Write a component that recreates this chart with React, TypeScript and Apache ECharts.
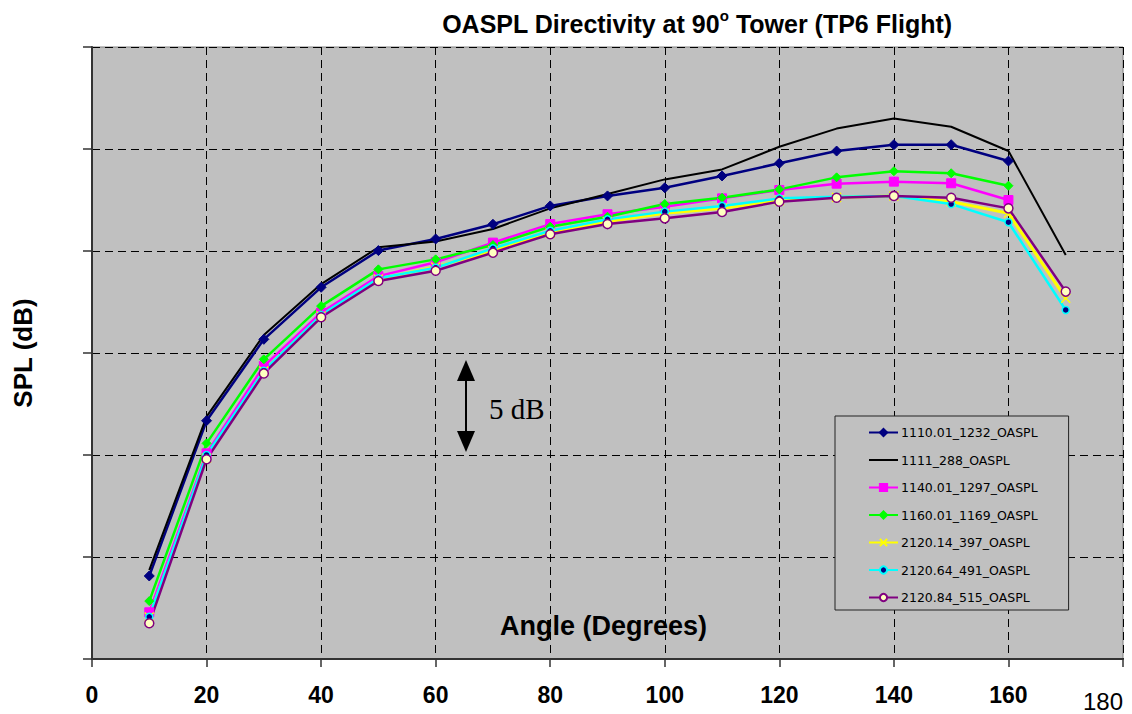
import React, { useEffect, useRef } from "react";
import * as echarts from "echarts";

const angles = [10, 20, 30, 40, 50, 60, 70, 80, 90, 100, 110, 120, 130, 140, 150, 160, 170];
const xTicks = [0, 20, 40, 60, 80, 100, 120, 140, 160, 180];

const s1110 = [4.07, 11.68, 15.67, 18.22, 20.02, 20.59, 21.31, 22.21, 22.7, 23.1, 23.68, 24.3, 24.9, 25.21, 25.21, 24.41, null];
const s1111 = [4.36, 11.88, 15.88, 18.38, 20.18, 20.47, 21.08, 22.09, 22.79, 23.51, 24.0, 25.11, 26.0, 26.5, 26.09, 24.9, 19.8];
const s1140 = [2.29, 10.08, 14.36, 16.98, 18.77, 19.45, 20.41, 21.32, 21.8, 22.17, 22.58, 22.99, 23.3, 23.4, 23.32, 22.5, null];
const s1160 = [2.84, 10.57, 14.69, 17.3, 19.1, 19.59, 20.29, 21.19, 21.68, 22.3, 22.61, 23.02, 23.61, 23.91, 23.81, 23.2, null];
const s2120_14 = [2.06, 9.85, 14.12, 16.81, 18.63, 19.22, 20.01, 20.87, 21.44, 21.85, 22.09, 22.47, 22.63, 22.7, 22.42, 21.85, 17.68];
const s2120_64 = [2.07, 10.0, 14.13, 16.86, 18.66, 19.18, 20.13, 20.99, 21.55, 21.93, 22.21, 22.58, 22.66, 22.7, 22.3, 21.41, 17.11];
const s2120_84 = [1.75, 9.79, 14.0, 16.75, 18.53, 19.03, 19.92, 20.82, 21.32, 21.6, 21.91, 22.42, 22.61, 22.7, 22.61, 22.09, 18.01];

const seriesNames = [
  "1110.01_1232_OASPL",
  "1111_288_OASPL",
  "1140.01_1297_OASPL",
  "1160.01_1169_OASPL",
  "2120.14_397_OASPL",
  "2120.64_491_OASPL",
  "2120.84_515_OASPL",
];

const pairs = (vals: (number | null)[]) =>
  angles.map((a, i) => [a, vals[i]]).filter((p) => p[1] !== null);

export default function App() {
  const ref = useRef<HTMLDivElement>(null);
  useEffect(() => {
    document.body.style.margin = "0";
    const chart = echarts.init(ref.current!, null, { renderer: "svg" });
    const mk = (
      name: string,
      vals: (number | null)[],
      color: string,
      width: number,
      symbol: string,
      size: number,
      fill: string,
      border: string,
      bw: number
    ) => ({
      name,
      type: "line",
      data: pairs(vals),
      showSymbol: symbol !== "none",
      symbol,
      symbolSize: size,
      lineStyle: { color, width },
      itemStyle: { color: fill, borderColor: border, borderWidth: bw },
      color,
      emphasis: { disabled: true },
    });
    chart.setOption({
      animation: false,
      backgroundColor: "#ffffff",
      title: {
        text: "{a|OASPL Directivity at 90}{s|o}{a| Tower (TP6 Flight)}",
        left: 692,
        top: 3,
        textAlign: "center",
        textStyle: {
          rich: {
            a: { fontFamily: "Liberation Sans, Arial, sans-serif", fontWeight: "bold", fontSize: 25, color: "#000" },
            s: { fontFamily: "Liberation Sans, Arial, sans-serif", fontWeight: "bold", fontSize: 15, color: "#000", padding: [0, 0, 16, 0] },
          },
        },
      },
      grid: {
        left: 92,
        right: 9,
        top: 47,
        bottom: 55,
        show: true,
        backgroundColor: "#C0C0C0",
        borderColor: "#808080",
        borderWidth: 1,
      },
      legend: {
        orient: "vertical",
        left: 835,
        top: 416,
        data: seriesNames.map((n, i) =>
          i === 1 ? { name: n, itemStyle: { color: "rgba(0,0,0,0)", borderWidth: 0, opacity: 0 } } : { name: n }
        ),
        itemWidth: 29,
        itemHeight: 9,
        itemGap: 14.5,
        padding: [10, 31, 6, 33],
        backgroundColor: "#C0C0C0",
        borderColor: "#222",
        borderWidth: 1,
        borderRadius: 0,
        textStyle: { fontFamily: "DejaVu Sans, sans-serif", fontSize: 12.5, color: "#000", padding: [0, 0, 0, -2] },
      },
      xAxis: {
        type: "value",
        min: 0,
        max: 180,
        interval: 20,
        axisLine: { show: true, onZero: false, lineStyle: { color: "#333", width: 2 } },
        axisTick: { show: true, length: 8, lineStyle: { color: "#333", width: 1.5 } },
        axisLabel: {
          margin: 24,
          fontFamily: "Liberation Sans, Arial, sans-serif",
          fontWeight: "bold",
          fontSize: 23,
          color: "#000",
          showMaxLabel: true,
          formatter: (v: number) => (v === 180 ? "{b|180}" : String(v)),
          rich: {
            b: { fontFamily: "Liberation Sans, Arial, sans-serif", fontWeight: "normal", fontSize: 24, color: "#000", padding: [6, 40, 0, 0] },
          },
        },
        splitLine: { show: true, lineStyle: { color: "#000", type: [8, 5], width: 1 } },
      },
      yAxis: {
        type: "value",
        min: 0,
        max: 30,
        interval: 5,
        name: "SPL (dB)",
        nameLocation: "middle",
        nameGap: 56,
        nameTextStyle: { fontFamily: "Liberation Sans, Arial, sans-serif", fontWeight: "bold", fontSize: 26, color: "#000" },
        axisLine: { show: true, lineStyle: { color: "#333", width: 2 } },
        axisTick: { show: true, length: 9, lineStyle: { color: "#333", width: 1.5 } },
        axisLabel: { show: false },
        splitLine: { show: true, lineStyle: { color: "#000", type: [8, 5], width: 1 } },
      },
      graphic: [
        {
          type: "text",
          left: 500,
          top: 612,
          z: 10,
          style: { text: "Angle (Degrees)", fontFamily: "Liberation Sans, Arial, sans-serif", fontWeight: "bold", fontSize: 27, fill: "#000" },
        },
        { type: "line", z: 10, shape: { x1: 466, y1: 376, x2: 466, y2: 436 }, style: { stroke: "#000", lineWidth: 2 } },
        { type: "polygon", z: 10, shape: { points: [[457, 381], [466, 360], [475, 381]] }, style: { fill: "#000" } },
        { type: "polygon", z: 10, shape: { points: [[457, 431], [466, 452], [475, 431]] }, style: { fill: "#000" } },
        {
          type: "text",
          left: 489,
          top: 394,
          z: 10,
          style: { text: "5 dB", fontFamily: "Liberation Serif, Times New Roman, serif", fontSize: 29, fill: "#000" },
        },
      ],
      series: [
        mk(seriesNames[0], s1110, "#000080", 2.5, "diamond", 10, "#000080", "#000080", 1),
        mk(seriesNames[1], s1111, "#000000", 2, "none", 0, "#000000", "#000000", 0),
        mk(seriesNames[2], s1140, "#FF00FF", 2.5, "rect", 9, "#FF00FF", "#FF00FF", 1),
        mk(seriesNames[3], s1160, "#00FF00", 2.5, "diamond", 9, "#00FF00", "#00FF00", 1),
        mk(seriesNames[4], s2120_14, "#FFFF00", 3, "path://M0,0L10,10M10,0L0,10", 9, "#FFFF00", "#FFFF00", 1.5),
        mk(seriesNames[5], s2120_64, "#00FFFF", 2.5, "circle", 7, "#000080", "#00FFFF", 1.5),
        mk(seriesNames[6], s2120_84, "#800080", 2.5, "circle", 9, "#FFFFC0", "#800080", 1.5),
      ],
    });
    return () => chart.dispose();
  }, []);
  return <div ref={ref} style={{ width: 1132, height: 714 }} />;
}
